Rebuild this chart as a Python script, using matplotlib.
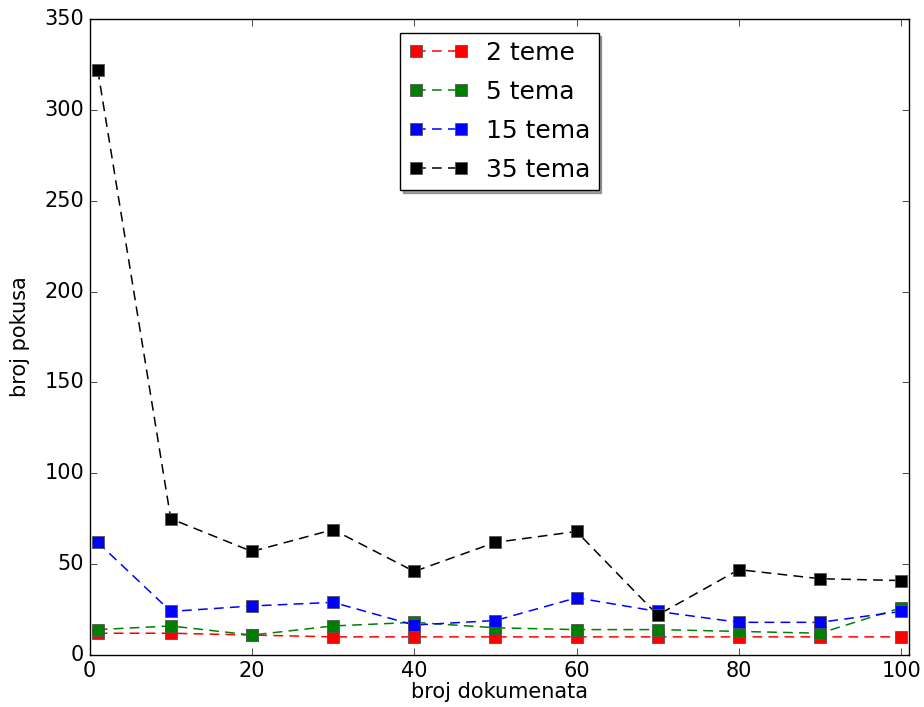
import matplotlib
matplotlib.use("Agg")
import matplotlib.pyplot as plt

plt.style.use('classic')

x = [1, 10, 20, 30, 40, 50, 60, 70, 80, 90, 100]
t2 = [12, 12, 11, 10, 10, 10, 10, 10, 10, 10, 10]
t5 = [14, 16, 11, 16, 18, 15, 14, 14, 13, 12, 26]
t15 = [62, 24, 27, 29, 16.5, 19, 31.5, 24, 18, 18, 24]
t35 = [322, 75, 57, 69, 46, 62, 68, 22, 47, 42, 41]

series = [("2 teme", t2, "red"), ("5 tema", t5, "green"),
          ("15 tema", t15, "blue"), ("35 tema", t35, "black")]

fig = plt.figure(figsize=(9.24, 7.07), dpi=100, facecolor='white')
ax = fig.add_axes([0.097, 0.0735, 0.887, 0.8995])
for label, vals, c in series:
    ax.plot(x, vals, linestyle='--', marker='s', color=c, markersize=8,
            markeredgewidth=0.6, markeredgecolor='#555555', label=label,
            linewidth=1.1, dashes=(7, 4.5))

ax.set_xlim(0, 101)
ax.set_ylim(0, 350)
ax.tick_params(labelsize=15, length=5)
ax.set_xlabel("broj dokumenata", fontsize=15, labelpad=1)
ax.set_ylabel("broj pokusa", fontsize=15, labelpad=10)
ax.legend(loc='upper center', numpoints=2, shadow=True, fontsize=18,
          fancybox=False, borderaxespad=0.55, labelspacing=0.6,
          handlelength=2.4, handletextpad=0.7, borderpad=0.33)
fig.savefig("out.png", dpi=100, facecolor='white')
